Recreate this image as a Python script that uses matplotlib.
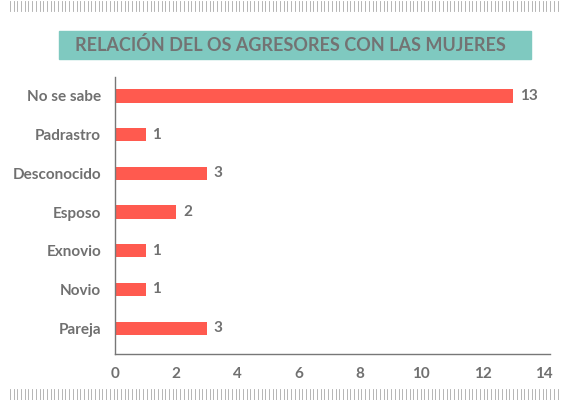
import matplotlib.pyplot as plt
from matplotlib.patches import Rectangle
import numpy as np

categories = ["No se sabe", "Padrastro", "Desconocido", "Esposo", "Exnovio", "Novio", "Pareja"]
values = [13, 1, 3, 2, 1, 1, 3]
xticks = [0, 2, 4, 6, 8, 10, 12, 14]

bar_color = "#FF5A4F"
text_grey = "#707070"

plt.rcParams['font.family'] = ['Lato', 'DejaVu Sans']

fig = plt.figure(figsize=(5.7, 4.0), dpi=100)
ax = fig.add_axes([115 / 570, 1 - 354 / 400, 435 / 570, 277 / 400])

ypos = np.arange(len(categories))[::-1]
ax.barh(ypos, values, height=0.34, color=bar_color)
for y, v in zip(ypos, values):
    ax.text(v + 0.22, y, str(v), va="center", ha="left", fontsize=11,
            color=text_grey, fontweight="bold")

ax.set_xlim(0, 14.2)
ax.set_ylim(-0.67, 6.49)
ax.set_yticks(ypos)
ax.set_yticklabels(categories)
ax.set_xticks(xticks)
ax.tick_params(axis="both", length=0, colors=text_grey, labelsize=11)
ax.tick_params(axis="y", pad=10)
ax.tick_params(axis="x", pad=9)
for lab in ax.get_yticklabels() + ax.get_xticklabels():
    lab.set_fontweight("bold")
for s in ["top", "right"]:
    ax.spines[s].set_visible(False)
for s in ["left", "bottom"]:
    ax.spines[s].set_color("#777777")
    ax.spines[s].set_linewidth(1)

# title box
fig.patches.append(Rectangle((59 / 570, 1 - 59 / 400), 472 / 570, 28 / 400,
                             transform=fig.transFigure, color="#7FC9C0", zorder=0))
fig.text(290 / 570, 1 - 45 / 400, "RELACIÓN DEL OS AGRESORES CON LAS MUJERES",
         ha="center", va="center", fontsize=13, color="#737373", fontweight="bold")

# decorative tick rows at top and bottom
for px in np.arange(10, 560, 3.7):
    fig.add_artist(plt.Line2D([px / 570, px / 570], [1 - 1 / 400, 1 - 11 / 400],
                              transform=fig.transFigure, color="#AAAAAA", lw=0.6))
    fig.add_artist(plt.Line2D([px / 570, px / 570], [1 - 389 / 400, 1 - 400 / 400],
                              transform=fig.transFigure, color="#AAAAAA", lw=0.6))

fig.savefig("out.png", dpi=100)
